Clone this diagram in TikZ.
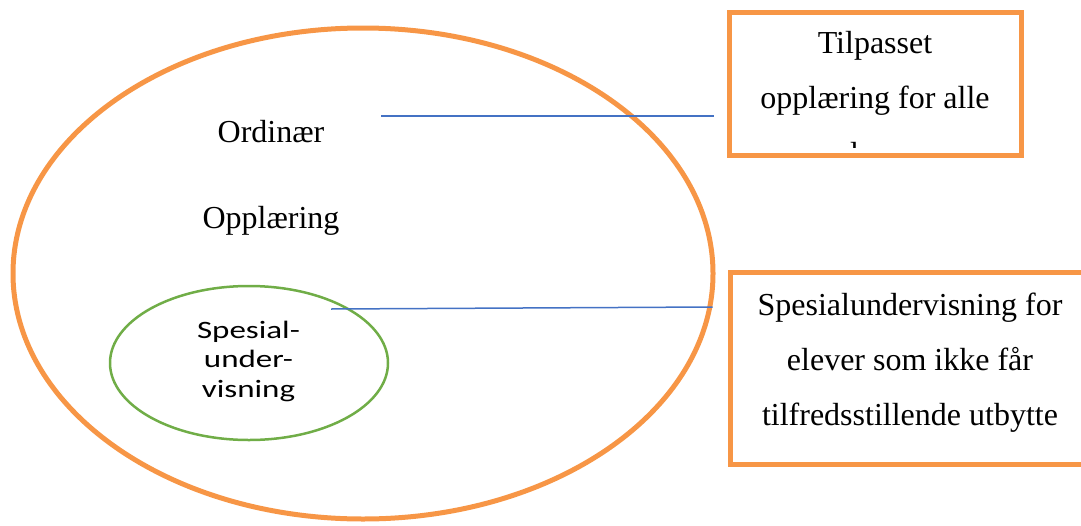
\documentclass[tikz,border=0pt]{standalone}
\usepackage{fontspec}
\usepackage{graphicx}
\setmainfont{Liberation Serif}
\newfontfamily\calib{Carlito}
\usetikzlibrary{shapes.geometric}
\definecolor{borange}{HTML}{F79646}
\definecolor{bgreen}{HTML}{70AD47}
\definecolor{bblue}{HTML}{4472C4}
\tikzset{
  serif/.style={anchor=base, inner sep=0pt, font=\fontsize{32}{55}\selectfont},
  sans/.style={anchor=base, inner sep=0pt, font=\calib\fontsize{25}{29.5}\selectfont},
  obox/.style={draw=borange, line width=5pt, rectangle, inner sep=0pt},
  link/.style={draw=bblue, line width=1.5pt},
}
\begin{document}
\begin{tikzpicture}[x=1pt,y=-1pt]
\useasboundingbox (0,0) rectangle (1081,525);
\clip (0,0) rectangle (1081,525);
% outer ellipse
\node[draw=borange, line width=5pt, ellipse, inner sep=0pt,
      minimum width=700pt, minimum height=491pt] (outer) at (363,273.5) {};
% inner ellipse
\node[draw=bgreen, line width=2.5pt, ellipse, inner sep=0pt,
      minimum width=278pt, minimum height=154pt] (inner) at (249,363) {};
% texts in ellipses
\node[serif] (ord1) at (271,142) {Ordinær};
\node[serif] (ord2) at (271,228) {Opplæring};
\node[sans] (sp1) at (248.5,338) {\scalebox{1.32}[1]{Spesial-}};
\node[sans] (sp2) at (248.5,367.5) {\scalebox{1.32}[1]{under-}};
\node[sans] (sp3) at (248.5,397) {\scalebox{1.32}[1]{visning}};
% boxes
\node[obox, minimum width=292pt, minimum height=143pt] (top) at (875,83.5) {};
\node[obox, minimum width=360pt, minimum height=192pt] (bot) at (910,368) {};
% top box text
\node[serif] (t1) at (875,53) {Tilpasset};
\node[serif] (t2) at (875,108) {opplæring for alle};
\begin{scope}
\clip (732,20) rectangle (1018,147);
\node[serif] (t3) at (875,164) {elever};
\end{scope}
% bottom box text
\node[serif] (b1) at (910,315) {Spesialundervisning for};
\node[serif] (b2) at (910,370) {elever som ikke får};
\node[serif] (b3) at (910,425) {tilfredsstillende utbytte};
% connectors
\coordinate (c1) at (381,116);
\coordinate (c2) at (331,309);
\draw[link] (c1) -- ([xshift=-13pt]top.west |- c1);
\draw[link] (c2) -- ([xshift=-15pt,yshift=2pt]bot.west |- c2);
\end{tikzpicture}
\end{document}
